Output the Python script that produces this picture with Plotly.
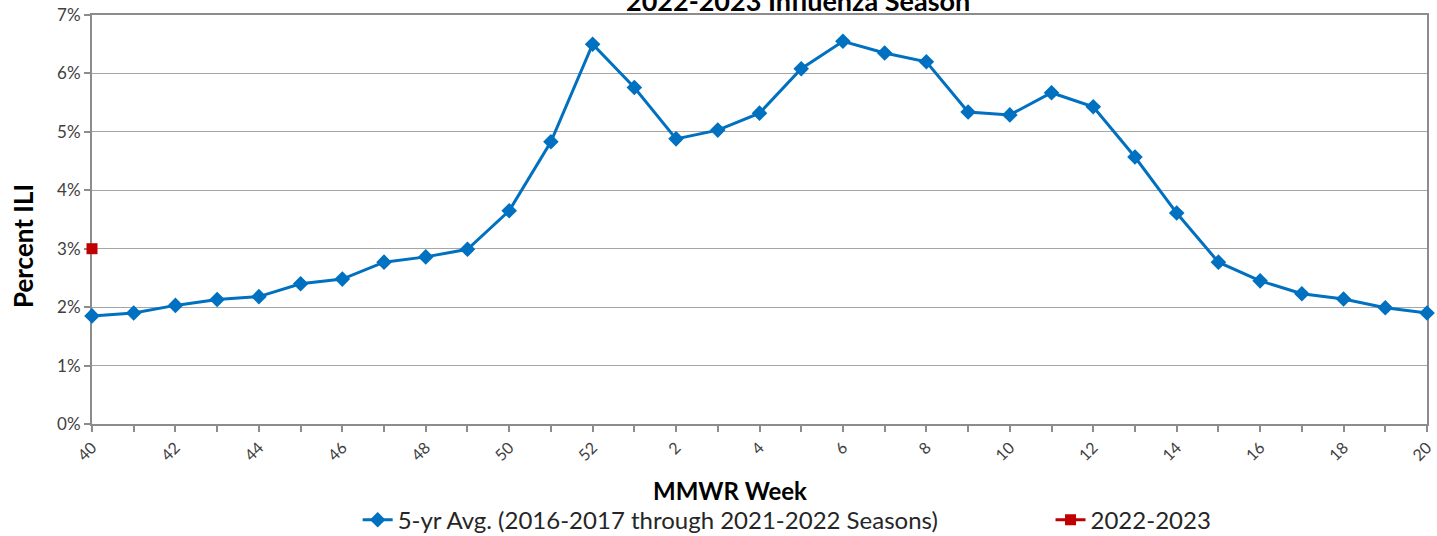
import plotly.graph_objects as go

weeks = [40, 41, 42, 43, 44, 45, 46, 47, 48, 49, 50, 51, 52,
         1, 2, 3, 4, 5, 6, 7, 8, 9, 10, 11, 12, 13, 14, 15, 16, 17, 18, 19, 20]
avg_5yr = [1.85, 1.90, 2.03, 2.13, 2.18, 2.40, 2.48, 2.77, 2.86, 2.99, 3.65, 4.83, 6.50,
           5.76, 4.88, 5.03, 5.32, 6.08, 6.55, 6.35, 6.20, 5.34, 5.29, 5.67, 5.43,
           4.57, 3.61, 2.77, 2.45, 2.23, 2.14, 1.99, 1.90]
season_2022 = [3.00]
y_ticks = [0, 1, 2, 3, 4, 5, 6, 7]
y_ticktext = ["0%", "1%", "2%", "3%", "4%", "5%", "6%", "7%"]

idx = list(range(len(weeks)))
label_idx = idx[::2]
label_text = [str(weeks[i]) for i in label_idx]

FONT = "Lato, Carlito, 'Open Sans', sans-serif"

fig = go.Figure()
fig.add_trace(go.Scatter(
    x=idx, y=avg_5yr, mode="lines+markers",
    name="5-yr Avg. (2016-2017 through 2021-2022 Seasons)",
    line=dict(color="#0070C0", width=3),
    marker=dict(symbol="diamond", size=12, color="#0070C0"),
    cliponaxis=False, legend="legend",
))
fig.add_trace(go.Scatter(
    x=idx[:len(season_2022)], y=season_2022, mode="lines+markers",
    name="2022-2023",
    line=dict(color="#C00000", width=3),
    marker=dict(symbol="square", size=11, color="#C00000"),
    cliponaxis=False, legend="legend2",
))

legend_common = dict(orientation="h", xanchor="left", y=-0.235, yanchor="middle",
                     font=dict(size=24, color="#262626"), bgcolor="rgba(0,0,0,0)")

fig.update_layout(
    width=1437, height=536,
    margin=dict(l=92, r=10, t=15, b=112, autoexpand=False),
    paper_bgcolor="white", plot_bgcolor="white",
    font=dict(family=FONT, color="#404040", size=15),
    showlegend=True,
    legend=dict(x=0.199, **legend_common),
    legend2=dict(x=0.718, **legend_common),
    xaxis=dict(
        range=[0, len(weeks) - 1], automargin=False, layer="below traces",
        tickvals=label_idx, ticktext=label_text, tickangle=-45,
        showgrid=False, zeroline=False,
        showline=True, linecolor="#8C8C8C", linewidth=2, mirror=True,
        ticks="outside", ticklen=6, tickcolor="#8C8C8C", tickwidth=1.5,
        minor=dict(tickvals=idx, ticks="outside", ticklen=6, tickcolor="#8C8C8C", tickwidth=1.5),
        tickfont=dict(size=16, color="#404040"),
    ),
    yaxis=dict(
        range=[0, 7], tickvals=y_ticks, ticktext=y_ticktext, automargin=False,
        layer="below traces",
        showgrid=True, gridcolor="#A6A6A6", gridwidth=1, zeroline=False,
        showline=True, linecolor="#8C8C8C", linewidth=2, mirror=True,
        ticks="outside", ticklen=6, tickcolor="#8C8C8C", tickwidth=1.5,
        tickfont=dict(size=17, color="#404040"),
    ),
    annotations=[
        dict(text="<b>2022-2023 Influenza Season</b>", x=0.529, y=0.99,
             xref="paper", yref="paper", xanchor="center", yanchor="bottom",
             showarrow=False, font=dict(size=27, color="#000000")),
        dict(text="<b>Percent ILI</b>", x=-0.0517, y=0.435, textangle=-90,
             xref="paper", yref="paper", xanchor="center", yanchor="middle",
             showarrow=False, font=dict(size=26, color="#000000")),
        dict(text="<b>MMWR Week</b>", x=0.478, y=-0.162,
             xref="paper", yref="paper", xanchor="center", yanchor="middle",
             showarrow=False, font=dict(size=24, color="#000000")),
    ],
)

fig.write_html("out.html", config={"displayModeBar": False},
               post_script="document.body.style.margin='0px';")
